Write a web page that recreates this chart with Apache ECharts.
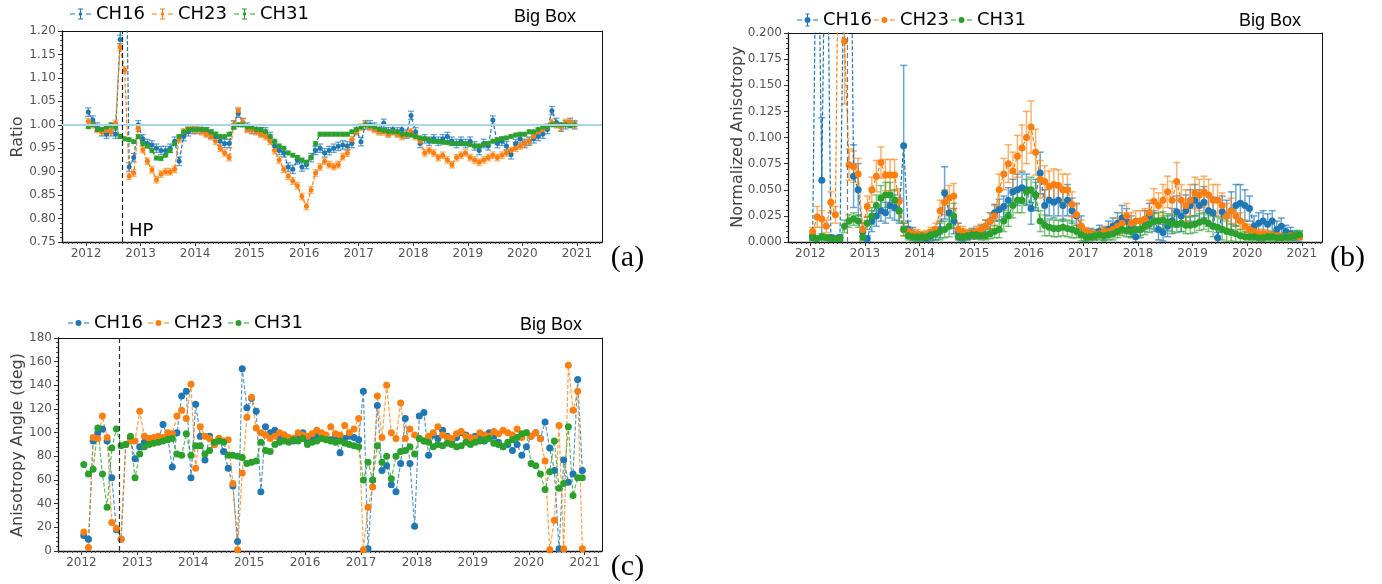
<!DOCTYPE html>
<html>
<head>
<meta charset="utf-8">
<script src="https://cdn.jsdelivr.net/npm/echarts@6/dist/echarts.min.js"></script>
<style>
  html, body { margin: 0; padding: 0; background: #fff; }
  #chart { width: 1382px; height: 584px; }
</style>
</head>
<body>
<div id="chart"></div>
<script>
// ---------------------------------------------------------------
// Data: monthly samples, Jan 2012 .. Dec 2020 (one row per year)
// ---------------------------------------------------------------
const channels = ['CH16', 'CH23', 'CH31'];
const yearTicks = [2012, 2013, 2014, 2015, 2016, 2017, 2018, 2019, 2020, 2021];
const hpDate = 2012.67;

// (a) count ratio
const ratio16 = [
  1.027, 1.010, 0.995, 0.985, 0.980, 0.985, 0.980, 1.182, 1.600, 0.910, 0.930, 1.000,
  0.970, 0.960, 0.957, 0.950, 0.945, 0.945, 0.950, 0.965, 0.922, 0.975, 0.985, 0.990,
  0.990, 0.990, 0.985, 0.980, 0.975, 0.965, 0.960, 0.960, 1.000, 1.025, 1.005, 0.995,
  0.990, 0.990, 0.985, 0.985, 0.975, 0.955, 0.945, 0.940, 0.910, 0.905, 0.925, 0.910,
  0.915, 0.930, 0.945, 0.950, 0.940, 0.945, 0.950, 0.954, 0.957, 0.955, 0.960, 0.990,
  0.964, 1.000, 1.000, 0.995, 0.990, 1.003, 0.985, 0.990, 0.985, 0.990, 0.980, 1.020,
  0.985, 0.960, 0.970, 0.965, 0.970, 0.965, 0.970, 0.975, 0.965, 0.960, 0.965, 0.960,
  0.965, 0.955, 0.945, 0.960, 0.955, 1.010, 0.960, 0.965, 0.955, 0.936, 0.960, 0.970,
  0.960, 0.965, 0.970, 0.975, 0.980, 0.990, 1.030, 1.005, 0.995, 1.000, 1.005, 1.000
];
const ratio23 = [
  1.007, 1.000, 0.990, 0.985, 0.988, 0.985, 1.003, 1.166, 1.117, 0.890, 0.897, 0.993,
  0.947, 0.922, 0.904, 0.883, 0.895, 0.900, 0.900, 0.905, 0.970, 0.985, 0.990, 0.990,
  0.990, 0.985, 0.980, 0.975, 0.965, 0.950, 0.940, 0.930, 1.000, 1.030, 1.005, 0.990,
  0.990, 0.985, 0.980, 0.975, 0.965, 0.945, 0.925, 0.905, 0.890, 0.880, 0.870, 0.847,
  0.826, 0.861, 0.897, 0.910, 0.922, 0.915, 0.911, 0.915, 0.932, 0.940, 0.968, 0.985,
  0.995, 1.000, 0.995, 0.990, 0.985, 0.985, 0.980, 0.985, 0.980, 0.975, 0.980, 0.985,
  0.975, 0.965, 0.940, 0.945, 0.940, 0.930, 0.935, 0.925, 0.915, 0.930, 0.935, 0.940,
  0.930, 0.925, 0.920, 0.925, 0.930, 0.935, 0.930, 0.935, 0.940, 0.945, 0.950, 0.955,
  0.960, 0.965, 0.975, 0.985, 0.990, 0.995, 1.005, 1.000, 0.995, 1.005, 1.005, 1.000
];
const ratio31 = [
  0.996, 1.000, 0.990, 0.990, 0.995, 1.000, 0.995, 0.975, 0.970, 0.968, 0.964, 0.975,
  0.960, 0.955, 0.945, 0.929, 0.928, 0.935, 0.945, 0.960, 0.975, 0.985, 0.990, 0.990,
  0.990, 0.990, 0.990, 0.985, 0.980, 0.975, 0.975, 0.980, 0.995, 1.000, 1.000, 0.995,
  0.995, 0.990, 0.990, 0.985, 0.975, 0.965, 0.955, 0.950, 0.940, 0.935, 0.930, 0.925,
  0.920, 0.930, 0.960, 0.980, 0.980, 0.980, 0.980, 0.980, 0.980, 0.980, 0.985, 0.990,
  0.995, 1.000, 0.998, 0.995, 0.990, 0.988, 0.985, 0.985, 0.985, 0.980, 0.980, 0.978,
  0.975, 0.972, 0.970, 0.968, 0.965, 0.965, 0.963, 0.962, 0.960, 0.960, 0.960, 0.960,
  0.958, 0.955, 0.955, 0.958, 0.960, 0.965, 0.968, 0.970, 0.972, 0.975, 0.978, 0.980,
  0.980, 0.985, 0.985, 0.990, 0.995, 0.995, 1.000, 1.000, 1.000, 1.000, 0.998, 1.000
];
const ratioErr16 = 0.009;
const ratioErr23 = 0.007;
const ratioErr31 = 0.004;

// (b) normalized anisotropy
const aniso16 = [
  0.005, 0.400, 0.059, 0.400, 0.004, 0.003, 0.004, 0.300, 0.500, 0.063, 0.050, 0.010,
  0.003, 0.020, 0.025, 0.030, 0.028, 0.035, 0.033, 0.030, 0.092, 0.012, 0.008, 0.005,
  0.005, 0.004, 0.006, 0.008, 0.012, 0.047, 0.028, 0.020, 0.010, 0.005, 0.006, 0.008,
  0.008, 0.010, 0.015, 0.020, 0.028, 0.031, 0.034, 0.040, 0.048, 0.050, 0.052, 0.050,
  0.032, 0.045, 0.066, 0.035, 0.040, 0.038, 0.040, 0.035, 0.040, 0.030, 0.025, 0.015,
  0.006, 0.008, 0.007, 0.010, 0.008, 0.012, 0.015, 0.018, 0.023, 0.020, 0.015, 0.005,
  0.012, 0.020, 0.025, 0.020, 0.012, 0.009, 0.015, 0.020, 0.029, 0.025, 0.030, 0.035,
  0.040, 0.035, 0.038, 0.030, 0.028, 0.004, 0.029, 0.025, 0.030, 0.035, 0.037, 0.035,
  0.032, 0.015, 0.018, 0.020, 0.017, 0.020, 0.012, 0.015, 0.010, 0.008, 0.006, 0.005
];
const aniso23 = [
  0.010, 0.024, 0.022, 0.015, 0.038, 0.026, 0.450, 0.192, 0.074, 0.072, 0.065, 0.012,
  0.034, 0.050, 0.063, 0.076, 0.064, 0.064, 0.064, 0.039, 0.012, 0.010, 0.008, 0.008,
  0.006, 0.007, 0.009, 0.012, 0.030, 0.038, 0.042, 0.044, 0.012, 0.010, 0.008, 0.008,
  0.010, 0.012, 0.015, 0.020, 0.025, 0.050, 0.065, 0.075, 0.068, 0.082, 0.090, 0.100,
  0.110, 0.086, 0.060, 0.058, 0.053, 0.055, 0.054, 0.050, 0.050, 0.036, 0.026, 0.015,
  0.010, 0.008, 0.007, 0.008, 0.010, 0.010, 0.012, 0.015, 0.018, 0.025, 0.018, 0.020,
  0.020, 0.022, 0.028, 0.039, 0.035, 0.040, 0.048, 0.040, 0.058, 0.040, 0.035, 0.040,
  0.047, 0.045, 0.048, 0.045, 0.040, 0.040, 0.035, 0.025, 0.030, 0.025, 0.020, 0.015,
  0.012, 0.010, 0.008, 0.008, 0.007, 0.006, 0.006, 0.005, 0.005, 0.006, 0.006, 0.005
];
const aniso31 = [
  0.004, 0.003, 0.005, 0.004, 0.003, 0.003, 0.003, 0.015, 0.020, 0.022, 0.020, 0.005,
  0.018, 0.025, 0.035, 0.042, 0.045, 0.045, 0.040, 0.030, 0.012, 0.006, 0.005, 0.005,
  0.005, 0.005, 0.007, 0.008, 0.010, 0.012, 0.015, 0.025, 0.005, 0.005, 0.006, 0.007,
  0.007, 0.006, 0.006, 0.008, 0.010, 0.012, 0.020, 0.025, 0.035, 0.040, 0.040, 0.048,
  0.050, 0.045, 0.020, 0.016, 0.014, 0.013, 0.013, 0.014, 0.013, 0.012, 0.010, 0.007,
  0.005, 0.005, 0.006, 0.007, 0.006, 0.007, 0.008, 0.010, 0.012, 0.011, 0.010, 0.012,
  0.012, 0.015, 0.017, 0.020, 0.020, 0.021, 0.019, 0.018, 0.017, 0.018, 0.016, 0.016,
  0.017, 0.019, 0.020, 0.018, 0.015, 0.014, 0.012, 0.010, 0.009, 0.008, 0.006, 0.005,
  0.005, 0.005, 0.004, 0.004, 0.005, 0.005, 0.004, 0.004, 0.005, 0.005, 0.006, 0.007
];
const anisoErr16 = [
  0.003, 0, 0.060, 0, 0.003, 0.003, 0.003, 0.170, 0, 0.030, 0.025, 0.008,
  0.003, 0.010, 0.010, 0.010, 0.010, 0.012, 0.012, 0.012, 0.077, 0.008, 0.006, 0.004,
  0.004, 0.004, 0.005, 0.006, 0.008, 0.025, 0.015, 0.012, 0.008, 0.004, 0.004, 0.005,
  0.005, 0.006, 0.006, 0.008, 0.008, 0.010, 0.010, 0.012, 0.012, 0.015, 0.015, 0.015,
  0.015, 0.015, 0.020, 0.015, 0.015, 0.015, 0.015, 0.015, 0.015, 0.012, 0.012, 0.010,
  0.005, 0.005, 0.005, 0.006, 0.006, 0.008, 0.008, 0.010, 0.012, 0.012, 0.010, 0.005,
  0.008, 0.010, 0.012, 0.010, 0.010, 0.008, 0.010, 0.012, 0.015, 0.015, 0.015, 0.015,
  0.015, 0.015, 0.015, 0.015, 0.015, 0.005, 0.015, 0.015, 0.018, 0.020, 0.018, 0.015,
  0.012, 0.010, 0.010, 0.010, 0.010, 0.010, 0.008, 0.008, 0.006, 0.006, 0.005, 0.005
];
const anisoErr23 = [
  0.004, 0.010, 0.008, 0.006, 0.010, 0.008, 0, 0.060, 0.015, 0.015, 0.015, 0.006,
  0.010, 0.012, 0.015, 0.015, 0.015, 0.015, 0.015, 0.012, 0.006, 0.005, 0.004, 0.004,
  0.004, 0.004, 0.005, 0.006, 0.010, 0.012, 0.012, 0.012, 0.006, 0.005, 0.004, 0.004,
  0.005, 0.005, 0.006, 0.008, 0.010, 0.015, 0.015, 0.018, 0.018, 0.020, 0.022, 0.025,
  0.025, 0.022, 0.018, 0.015, 0.015, 0.015, 0.015, 0.015, 0.015, 0.012, 0.010, 0.006,
  0.004, 0.004, 0.004, 0.004, 0.005, 0.005, 0.006, 0.008, 0.010, 0.012, 0.010, 0.010,
  0.010, 0.010, 0.012, 0.012, 0.012, 0.015, 0.015, 0.018, 0.018, 0.015, 0.015, 0.015,
  0.015, 0.015, 0.015, 0.015, 0.015, 0.015, 0.012, 0.012, 0.012, 0.010, 0.008, 0.006,
  0.005, 0.005, 0.004, 0.004, 0.004, 0.004, 0.003, 0.003, 0.003, 0.003, 0.003, 0.003
];
const anisoErr31 = [
  0.003, 0.003, 0.003, 0.003, 0.003, 0.003, 0.003, 0.006, 0.006, 0.006, 0.006, 0.004,
  0.006, 0.008, 0.010, 0.012, 0.012, 0.012, 0.010, 0.010, 0.006, 0.004, 0.004, 0.004,
  0.004, 0.004, 0.005, 0.006, 0.008, 0.008, 0.010, 0.012, 0.006, 0.004, 0.004, 0.004,
  0.004, 0.004, 0.004, 0.005, 0.006, 0.008, 0.010, 0.010, 0.012, 0.012, 0.012, 0.012,
  0.012, 0.012, 0.010, 0.010, 0.008, 0.008, 0.008, 0.008, 0.008, 0.008, 0.006, 0.006,
  0.004, 0.004, 0.004, 0.005, 0.005, 0.005, 0.006, 0.006, 0.006, 0.006, 0.006, 0.006,
  0.006, 0.008, 0.008, 0.008, 0.008, 0.008, 0.008, 0.008, 0.008, 0.008, 0.008, 0.008,
  0.008, 0.008, 0.008, 0.008, 0.010, 0.010, 0.010, 0.010, 0.008, 0.008, 0.006, 0.005,
  0.004, 0.004, 0.004, 0.004, 0.004, 0.004, 0.004, 0.004, 0.004, 0.004, 0.004, 0.004
];

// (c) anisotropy angle, degrees
const angle16 = [
  13, 10, 93, 100, 103, 93, 62, 18, 10, 90, 95, 78,
  88, 92, 95, 95, 94, 107, 96, 71, 100, 131, 135, 62,
  124, 97, 77, 97, 90, 95, 84, 70, 55, 8, 154, 121,
  129, 118, 50, 105, 100, 102, 96, 98, 95, 93, 97, 100,
  92, 95, 97, 99, 96, 94, 97, 83, 95, 97, 96, 94,
  135, 2, 60, 123, 68, 72, 56, 50, 74, 112, 74, 21,
  114, 117, 81, 98, 95, 102, 97, 93, 96, 100, 98, 95,
  97, 95, 93, 100, 97, 92, 88, 90, 85, 90, 81, 88,
  97, 100, 95, 109, 87, 68, 2, 77, 58, 65, 145, 68
];
const angle23 = [
  16, 3, 96, 95, 114, 96, 24, 19, 10, 90, 93, 93,
  118, 97, 95, 96, 97, 96, 100, 99, 114, 119, 112, 141,
  70, 105, 97, 95, 90, 95, 93, 94, 57, 1, 66, 113,
  130, 104, 100, 98, 95, 97, 100, 98, 96, 95, 100, 98,
  97, 99, 102, 100, 98, 105, 99, 98, 106, 100, 103, 112,
  1, 37, 54, 131, 96, 140, 100, 95, 125, 95, 103, 98,
  95, 93, 97, 100, 105, 98, 96, 95, 99, 101, 97, 96,
  95, 100, 98, 97, 101, 99, 102, 100, 98, 103, 96, 100,
  97, 100, 95, 76, 1, 26, 106, 2, 157, 119, 135, 2
];
const angle31 = [
  73, 65, 69, 104, 65, 37, 87, 103, 89, 90, 97, 62,
  82, 88, 90, 91, 92, 93, 94, 95, 82, 81, 99, 81,
  89, 89, 82, 85, 92, 93, 92, 81, 81, 80, 79, 74,
  75, 76, 92, 85, 84, 90, 92, 93, 92, 94, 93, 95,
  90, 92, 93, 95, 94, 93, 92, 93, 91, 90, 89, 88,
  60, 75, 60, 89, 75, 80, 61, 80, 84, 85, 88, 82,
  95, 93, 92, 88, 90, 89, 91, 90, 88, 89, 92, 90,
  92, 93, 94, 95, 91, 90, 88, 92, 94, 96, 99, 100,
  74, 72, 65, 52, 67, 93, 53, 57, 105, 47, 62, 62
];

// ---------------------------------------------------------------
// Drawing
// ---------------------------------------------------------------
const COLORS = { CH16: '#1f77b4', CH23: '#ff7f0e', CH31: '#2ca02c' };
const ERR_COLORS = {
  CH16: 'rgba(31,119,180,0.65)',
  CH23: 'rgba(255,127,14,0.6)',
  CH31: 'rgba(44,160,44,0.6)'
};

// sample epoch of each value (mid-month, decimal year)
const sampleTimes = ratio16.map((_, i) => 2012 + (i + 0.5) / 12);
// monthly minor ticks along the time axes
const monthTicks = [];
for (let k = 7; k <= 125; k++) monthTicks.push(2011 + k / 12);

const AXIS_FONT = 'DejaVu Sans';

function timeAxes(grid, min, max) {
  const base = { gridIndex: grid, type: 'value', min: min, max: max, splitLine: { show: false } };
  return [
    Object.assign({}, base, {
      position: 'bottom',
      axisLine: { show: true, onZero: false, lineStyle: { color: '#111', width: 1.3 } },
      axisTick: { show: true, customValues: yearTicks, length: 4, lineStyle: { color: '#333', width: 1 } },
      axisLabel: {
        show: true, customValues: yearTicks, margin: 6,
        formatter: v => String(Math.round(v)),
        color: '#555', fontSize: 12, fontFamily: AXIS_FONT
      }
    }),
    Object.assign({}, base, {
      position: 'top',
      axisLine: { show: true, onZero: false, lineStyle: { color: '#111', width: 1 } },
      axisTick: { show: false }, axisLabel: { show: false }
    }),
    Object.assign({}, base, {
      position: 'bottom',
      axisLine: { show: false },
      axisTick: { show: true, customValues: monthTicks, length: 2, lineStyle: { color: '#444', width: 1 } },
      axisLabel: { show: false }
    })
  ];
}

function valueAxes(grid, min, max, interval, digits) {
  return [
    {
      gridIndex: grid, type: 'value', position: 'left', min: min, max: max, interval: interval,
      axisLine: { show: true, onZero: false, lineStyle: { color: '#111', width: 1.3 } },
      axisTick: { show: true, length: 4, lineStyle: { color: '#333', width: 1 } },
      minorTick: { show: true, splitNumber: 5, length: 2, lineStyle: { color: '#444', width: 1 } },
      axisLabel: {
        margin: 6, formatter: v => v.toFixed(digits),
        color: '#555', fontSize: 12, fontFamily: AXIS_FONT
      },
      splitLine: { show: false }
    },
    {
      gridIndex: grid, type: 'value', position: 'right', min: min, max: max,
      axisLine: { show: true, onZero: false, lineStyle: { color: '#111', width: 1 } },
      axisTick: { show: false }, axisLabel: { show: false }, splitLine: { show: false }
    }
  ];
}

function lineSeries(name, axisIdx, values, size, lineOpacity) {
  const color = COLORS[name];
  return {
    name: name, type: 'line', xAxisIndex: axisIdx[0], yAxisIndex: axisIdx[1],
    data: values.map((v, i) => [sampleTimes[i], v]),
    symbol: 'circle', symbolSize: size, showSymbol: true, showAllSymbol: true,
    itemStyle: { color: color, borderWidth: 0 },
    lineStyle: { color: color, width: 1.2, type: [4, 2], opacity: lineOpacity },
    clip: true, animation: false, z: 3
  };
}

function errorSeries(name, axisIdx, values, errs, capHalf, ymax, width) {
  const data = [];
  values.forEach((v, i) => {
    const e = Array.isArray(errs) ? errs[i] : errs;
    if (e > 0 && v < ymax) data.push([sampleTimes[i], v - e, v + e]);
  });
  const stroke = ERR_COLORS[name];
  return {
    name: name + ' error', type: 'custom', xAxisIndex: axisIdx[0], yAxisIndex: axisIdx[1],
    data: data, encode: { x: 0, y: [1, 2] }, clip: true, silent: true, animation: false, z: 3,
    renderItem: function (params, api) {
      const top = api.coord([api.value(0), api.value(2)]);
      const bot = api.coord([api.value(0), api.value(1)]);
      const st = { stroke: stroke, lineWidth: width, fill: null };
      return {
        type: 'group',
        children: [
          { type: 'line', shape: { x1: top[0], y1: top[1], x2: bot[0], y2: bot[1] }, style: st },
          { type: 'line', shape: { x1: top[0] - capHalf, y1: top[1], x2: top[0] + capHalf, y2: top[1] }, style: st },
          { type: 'line', shape: { x1: bot[0] - capHalf, y1: bot[1], x2: bot[0] + capHalf, y2: bot[1] }, style: st }
        ]
      };
    }
  };
}

function guideSeries(axisIdx, lines) {
  return {
    name: 'guides', type: 'line', xAxisIndex: axisIdx[0], yAxisIndex: axisIdx[1],
    data: [], silent: true, animation: false, z: 2,
    markLine: { silent: true, symbol: ['none', 'none'], animation: false, label: { show: false }, data: lines }
  };
}

// legend glyphs (21 x 13 box; tiny corner specks fix the bounding box)
const BOX = 'M0 0H0.01V0.01H0Z M20.99 12.99H21V13H20.99Z ';
const DASHES = 'M0 6H5V7H0Z M16 6H21V7H16Z ';
const ICON_ERR_SMALL = 'path://' + BOX + DASHES +
  'M10 1H11V12H10Z M8 1H13V2H8Z M8 11H13V12H8Z M8.7 6.5A1.8 1.8 0 1 1 12.3 6.5A1.8 1.8 0 1 1 8.7 6.5Z';
const ICON_ERR_DOT = 'path://' + BOX + DASHES +
  'M10 0H11V13H10Z M8.5 0H12.5V1H8.5Z M8.5 12H12.5V13H8.5Z M7.5 6.5A3 3 0 1 1 13.5 6.5A3 3 0 1 1 7.5 6.5Z';
const ICON_DOT = 'path://' + BOX + DASHES +
  'M7.5 6.5A3 3 0 1 1 13.5 6.5A3 3 0 1 1 7.5 6.5Z';

function legendAt(left, top, gap, icons) {
  return {
    left: left, top: top, padding: 0, itemGap: gap, itemWidth: 21, itemHeight: 13,
    orient: 'horizontal', selectedMode: false,
    itemStyle: { borderWidth: 0 },
    data: channels.map((n, i) => ({ name: n, icon: icons[i] })),
    textStyle: { fontSize: 18, fontFamily: AXIS_FONT, color: '#000' }
  };
}

const xA = timeAxes(0, 2011.56, 2021.46);
const xB = timeAxes(1, 2011.59, 2021.37);
const xC = timeAxes(2, 2011.58, 2021.31);
const yA = valueAxes(0, 0.75, 1.20, 0.05, 2);
const yB = valueAxes(1, 0, 0.2, 0.025, 3);
const yC = valueAxes(2, 0, 180, 20, 0);

const axA = [0, 0], axB = [3, 2], axC = [6, 4];

const series = [
  guideSeries(axA, [
    { yAxis: 1.0, lineStyle: { color: '#a9d6e5', width: 2, type: 'solid' } },
    { xAxis: hpDate, lineStyle: { color: '#222', width: 1.2, type: [5, 3] } }
  ]),
  guideSeries(axB, [
    { xAxis: hpDate, lineStyle: { color: '#777', width: 1.2, type: [5, 3] } }
  ]),
  guideSeries(axC, [
    { xAxis: hpDate, lineStyle: { color: '#333', width: 1.2, type: [5, 3] } }
  ])
];

const ratioSets = { CH16: [ratio16, ratioErr16], CH23: [ratio23, ratioErr23], CH31: [ratio31, ratioErr31] };
const anisoSets = { CH16: [aniso16, anisoErr16], CH23: [aniso23, anisoErr23], CH31: [aniso31, anisoErr31] };
const angleSets = { CH16: angle16, CH23: angle23, CH31: angle31 };

channels.forEach(ch => {
  series.push(errorSeries(ch, axA, ratioSets[ch][0], ratioSets[ch][1], 3, 1.2, 1.3));
  series.push(lineSeries(ch, axA, ratioSets[ch][0], 5, 1));
});
channels.forEach(ch => {
  series.push(errorSeries(ch, axB, anisoSets[ch][0], anisoSets[ch][1], 3.5, 0.2, 1.5));
  series.push(lineSeries(ch, axB, anisoSets[ch][0], 7, 1));
});
channels.forEach(ch => {
  series.push(lineSeries(ch, axC, angleSets[ch], 7, 0.75));
});

function label(text, x, y, font) {
  return {
    type: 'text', x: x, y: y, silent: true,
    style: {
      text: text, font: font, fill: '#000',
      align: 'left', verticalAlign: 'middle', textAlign: 'left', textVerticalAlign: 'middle'
    }
  };
}
function vlabel(text, x, y) {
  return {
    type: 'text', x: x, y: y, rotation: Math.PI / 2, silent: true,
    style: {
      text: text, font: '16px "DejaVu Sans"', fill: '#444',
      align: 'center', verticalAlign: 'middle', textAlign: 'center', textVerticalAlign: 'middle'
    }
  };
}
function panelTag(text, x, y) {
  return {
    type: 'text', x: x, y: y, silent: true,
    style: {
      text: text, font: '30px "Liberation Serif"', fill: '#000',
      align: 'center', verticalAlign: 'middle', textAlign: 'center', textVerticalAlign: 'middle'
    }
  };
}

const option = {
  backgroundColor: '#fff',
  animation: false,
  grid: [
    { left: 62, top: 31, width: 540, height: 211, containLabel: false, outerBoundsMode: 'none' },
    { left: 788, top: 33, width: 534, height: 209, containLabel: false, outerBoundsMode: 'none' },
    { left: 58, top: 338, width: 544, height: 213, containLabel: false, outerBoundsMode: 'none' }
  ],
  xAxis: [].concat(xA, xB, xC),
  yAxis: [].concat(yA, yB, yC),
  legend: [
    legendAt(70, 5, 7, [ICON_ERR_SMALL, ICON_ERR_SMALL, ICON_ERR_SMALL]),
    legendAt(797, 11, 2, [ICON_ERR_DOT, ICON_DOT, ICON_DOT]),
    legendAt(68, 314, 5, [ICON_DOT, ICON_DOT, ICON_DOT])
  ],
  series: series,
  graphic: [
    label('Big Box', 514, 17, '18px "Liberation Sans"'),
    label('Big Box', 1239, 21, '18px "Liberation Sans"'),
    label('Big Box', 520, 325, '18px "Liberation Sans"'),
    label('HP', 129, 231, '18px "DejaVu Sans"'),
    vlabel('Ratio', 17.5, 137),
    vlabel('Normalized Anisotropy', 737.5, 137),
    vlabel('Anisotropy Angle (deg)', 17.8, 445),
    panelTag('(a)', 627.5, 258),
    panelTag('(b)', 1347.5, 258),
    panelTag('(c)', 627.5, 567)
  ]
};

const chart = echarts.init(document.getElementById('chart'), null, { renderer: 'canvas' });
chart.setOption(option);
</script>
</body>
</html>
